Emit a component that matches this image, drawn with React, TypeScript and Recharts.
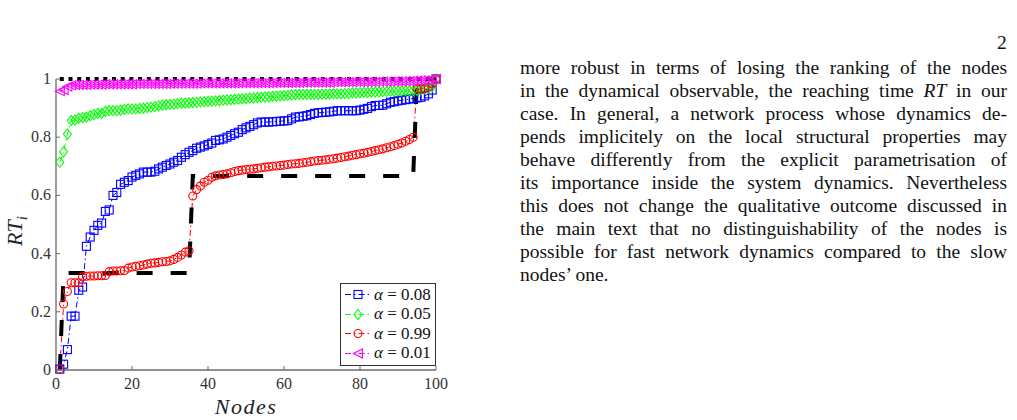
import React from "react";
import { Line, LineChart, XAxis, YAxis } from "recharts";

// node index along the x axis
const nodes = Array.from({ length: 100 }, (_, i) => i + 1);

const alpha008 = [
  0.003, 0.02, 0.07, 0.185, 0.185, 0.274, 0.285, 0.425, 0.457, 0.48,
  0.497, 0.505, 0.545, 0.55, 0.6, 0.61, 0.638, 0.645, 0.651, 0.663,
  0.669, 0.674, 0.68, 0.68, 0.68, 0.683, 0.691, 0.697, 0.703, 0.708,
  0.714, 0.72, 0.731, 0.74, 0.748, 0.754, 0.762, 0.766, 0.77, 0.775,
  0.78, 0.789, 0.791, 0.794, 0.8, 0.806, 0.812, 0.817, 0.826, 0.832,
  0.837, 0.843, 0.849, 0.852, 0.852, 0.852, 0.853, 0.854, 0.855, 0.856,
  0.857, 0.863, 0.869, 0.87, 0.872, 0.874, 0.878, 0.882, 0.884, 0.885,
  0.886, 0.887, 0.889, 0.891, 0.891, 0.891, 0.891, 0.891, 0.891, 0.893,
  0.896, 0.899, 0.905, 0.909, 0.909, 0.91, 0.915, 0.92, 0.922, 0.925,
  0.927, 0.929, 0.931, 0.933, 0.935, 0.937, 0.942, 0.949, 0.962, 1,
];

const alpha005 = [
  0.714, 0.75, 0.811, 0.857, 0.859, 0.865, 0.867, 0.869, 0.874, 0.878,
  0.882, 0.882, 0.889, 0.891, 0.891, 0.891, 0.893, 0.896, 0.897, 0.897,
  0.897, 0.899, 0.9, 0.902, 0.903, 0.905, 0.908, 0.91, 0.912, 0.913,
  0.914, 0.915, 0.917, 0.917, 0.918, 0.919, 0.92, 0.921, 0.922, 0.923,
  0.924, 0.925, 0.926, 0.927, 0.928, 0.929, 0.93, 0.931, 0.932, 0.933,
  0.934, 0.935, 0.936, 0.937, 0.938, 0.939, 0.94, 0.941, 0.942, 0.943,
  0.944, 0.945, 0.946, 0.947, 0.947, 0.947, 0.947, 0.947, 0.947, 0.948,
  0.948, 0.948, 0.949, 0.949, 0.949, 0.95, 0.951, 0.952, 0.952, 0.953,
  0.954, 0.954, 0.955, 0.955, 0.956, 0.957, 0.957, 0.958, 0.958, 0.959,
  0.959, 0.96, 0.96, 0.96, 0.961, 0.963, 0.966, 0.969, 0.974, 1,
];

const alpha099 = [
  0.003, 0.227, 0.27, 0.3, 0.3, 0.3, 0.32, 0.322, 0.323, 0.323,
  0.324, 0.324, 0.325, 0.338, 0.34, 0.34, 0.341, 0.342, 0.35, 0.354,
  0.356, 0.358, 0.361, 0.364, 0.367, 0.368, 0.37, 0.372, 0.373, 0.375,
  0.38, 0.387, 0.395, 0.405, 0.41, 0.598, 0.62, 0.632, 0.645, 0.652,
  0.662, 0.667, 0.67, 0.672, 0.674, 0.678, 0.682, 0.685, 0.687, 0.689,
  0.69, 0.691, 0.693, 0.695, 0.697, 0.698, 0.7, 0.701, 0.703, 0.704,
  0.706, 0.708, 0.709, 0.71, 0.712, 0.714, 0.716, 0.718, 0.72, 0.721,
  0.722, 0.724, 0.726, 0.728, 0.73, 0.733, 0.735, 0.738, 0.74, 0.743,
  0.745, 0.748, 0.751, 0.754, 0.757, 0.76, 0.764, 0.767, 0.771, 0.776,
  0.78, 0.786, 0.792, 0.8, 0.966, 0.966, 0.967, 0.972, 0.983, 1,
];

const alpha001 = [
  0.958, 0.962, 0.974, 0.978, 0.979, 0.98, 0.98, 0.98, 0.981, 0.981,
  0.981, 0.981, 0.982, 0.982, 0.982, 0.982, 0.982, 0.982, 0.982, 0.982,
  0.983, 0.983, 0.983, 0.983, 0.983, 0.983, 0.983, 0.983, 0.983, 0.984,
  0.984, 0.984, 0.984, 0.984, 0.984, 0.984, 0.984, 0.985, 0.985, 0.985,
  0.985, 0.985, 0.985, 0.985, 0.985, 0.985, 0.985, 0.986, 0.986, 0.986,
  0.986, 0.986, 0.986, 0.986, 0.986, 0.986, 0.987, 0.987, 0.987, 0.987,
  0.987, 0.987, 0.987, 0.987, 0.988, 0.988, 0.988, 0.988, 0.988, 0.988,
  0.988, 0.988, 0.989, 0.989, 0.989, 0.989, 0.989, 0.989, 0.99, 0.99,
  0.99, 0.99, 0.99, 0.99, 0.991, 0.991, 0.991, 0.991, 0.992, 0.992,
  0.992, 0.993, 0.993, 0.994, 0.994, 0.995, 0.995, 0.996, 0.997, 1,
];

// black reference steps (not in legend)
const slowSteps = [
  0, 0.333, 0.333, 0.333, 0.333, 0.333, 0.333, 0.333, 0.333, 0.333,
  0.333, 0.333, 0.333, 0.333, 0.333, 0.333, 0.333, 0.333, 0.333, 0.333,
  0.333, 0.333, 0.333, 0.333, 0.333, 0.333, 0.333, 0.333, 0.333, 0.333,
  0.333, 0.333, 0.333, 0.333, 0.333, 0.667, 0.667, 0.667, 0.667, 0.667,
  0.667, 0.667, 0.667, 0.667, 0.667, 0.667, 0.667, 0.667, 0.667, 0.667,
  0.667, 0.667, 0.667, 0.667, 0.667, 0.667, 0.667, 0.667, 0.667, 0.667,
  0.667, 0.667, 0.667, 0.667, 0.667, 0.667, 0.667, 0.667, 0.667, 0.667,
  0.667, 0.667, 0.667, 0.667, 0.667, 0.667, 0.667, 0.667, 0.667, 0.667,
  0.667, 0.667, 0.667, 0.667, 0.667, 0.667, 0.667, 0.667, 0.667, 0.667,
  0.667, 0.667, 0.667, 0.667, 1, 1, 1, 1, 1, 1,
];

const fastSteps = [
  1, 1, 1, 1, 1, 1, 1, 1, 1, 1,
  1, 1, 1, 1, 1, 1, 1, 1, 1, 1,
  1, 1, 1, 1, 1, 1, 1, 1, 1, 1,
  1, 1, 1, 1, 1, 1, 1, 1, 1, 1,
  1, 1, 1, 1, 1, 1, 1, 1, 1, 1,
  1, 1, 1, 1, 1, 1, 1, 1, 1, 1,
  1, 1, 1, 1, 1, 1, 1, 1, 1, 1,
  1, 1, 1, 1, 1, 1, 1, 1, 1, 1,
  1, 1, 1, 1, 1, 1, 1, 1, 1, 1,
  1, 1, 1, 1, 1, 1, 1, 1, 1, 1,
];

const xTicks = [0, 20, 40, 60, 80, 100];
const yTicks = [0, 0.2, 0.4, 0.6, 0.8, 1];

const textLines = [
  "more robust in terms of losing the ranking of the nodes",
  "in the dynamical observable, the reaching time @RT@ in our",
  "case. In general, a network process whose dynamics de-",
  "pends implicitely on the local structural properties may",
  "behave differently from the explicit parametrisation of",
  "its importance inside the system dynamics. Nevertheless",
  "this does not change the qualitative outcome discussed in",
  "the main text that no distinguishability of the nodes is",
  "possible for fast network dynamics compared to the slow",
  "nodes\u2019 one.",
];

const rows = nodes.map((node, i) => ({
  node,
  a008: alpha008[i],
  a005: alpha005[i],
  a099: alpha099[i],
  a001: alpha001[i],
  slow: slowSteps[i],
  fast: fastSteps[i],
}));

const SERIF = "'Liberation Serif', 'Times New Roman', serif";
const AXIS = "#6b6b6b";
const DASHDOT = "6 3 1.5 3";

type Shape = "square" | "diamond" | "circle" | "triangle";

const series: { key: string; label: string; color: string; shape: Shape }[] = [
  { key: "a008", label: "0.08", color: "#0000ff", shape: "square" },
  { key: "a005", label: "0.05", color: "#00ff00", shape: "diamond" },
  { key: "a099", label: "0.99", color: "#ff0000", shape: "circle" },
  { key: "a001", label: "0.01", color: "#ff00ff", shape: "triangle" },
];

function Marker({ shape, cx, cy, color }: { shape: Shape; cx: number; cy: number; color: string }) {
  const common = { fill: "none", stroke: color, strokeWidth: 1.1 };
  if (shape === "square") return <rect x={cx - 4} y={cy - 4} width={8} height={8} {...common} />;
  if (shape === "diamond")
    return <polygon points={`${cx},${cy - 5} ${cx + 4},${cy} ${cx},${cy + 5} ${cx - 4},${cy}`} {...common} />;
  if (shape === "circle") return <circle cx={cx} cy={cy} r={4} {...common} />;
  return <polygon points={`${cx - 4.5},${cy} ${cx + 4.5},${cy - 4.5} ${cx + 4.5},${cy + 4.5}`} {...common} />;
}

const dotFor = (shape: Shape, color: string) => (props: any) => {
  const { cx, cy, index } = props;
  if (cx == null || cy == null) return <g key={index} />;
  return (
    <g key={index}>
      <Marker shape={shape} cx={cx} cy={cy} color={color} />
    </g>
  );
};

const XTick = ({ x, y, payload }: any) => (
  <g>
    <line x1={x} x2={x} y1={y} y2={y - 4} stroke={AXIS} strokeWidth={1} />
    <text x={x} y={y + 19} textAnchor="middle" fontFamily={SERIF} fontSize={16} fill="#333">
      {payload.value}
    </text>
  </g>
);

const YTick = ({ x, y, payload }: any) => (
  <g>
    <line x1={x} x2={x + 4} y1={y} y2={y} stroke={AXIS} strokeWidth={1} />
    <text x={x - 5} y={y + 5} textAnchor="end" fontFamily={SERIF} fontSize={16} fill="#333">
      {payload.value}
    </text>
  </g>
);

function ChartLegend() {
  return (
    <div
      style={{
        position: "absolute",
        left: 340,
        top: 283,
        width: 94,
        height: 80,
        border: "1px solid #333",
        background: "#fff",
        paddingTop: 1,
        boxSizing: "content-box",
      }}
    >
      {series.map((s) => (
        <div key={s.key} style={{ display: "flex", alignItems: "center", height: 19.5 }}>
          <svg width={32} height={19} style={{ display: "block" }}>
            <line x1={4} x2={28} y1={9.5} y2={9.5} stroke={s.color} strokeWidth={1} strokeDasharray={DASHDOT} />
            <Marker shape={s.shape} cx={17} cy={9.5} color={s.color} />
          </svg>
          <span style={{ fontFamily: SERIF, fontSize: 17, color: "#111", whiteSpace: "nowrap", marginLeft: 1 }}>
            <i>α</i> = {s.label}
          </span>
        </div>
      ))}
    </div>
  );
}

function TextLine({ text, last }: { text: string; last: boolean }) {
  const parts = text.split("@");
  return (
    <div style={{ textAlign: last ? "left" : "justify", textAlignLast: last ? "left" : "justify", height: 23 }}>
      {parts.map((p, i) => (i % 2 === 1 ? <i key={i}>{p}</i> : <span key={i}>{p}</span>))}
    </div>
  );
}

export default function App() {
  return (
    <div
      style={{
        position: "absolute",
        left: 0,
        top: 0,
        width: 1017,
        height: 420,
        background: "#fff",
        overflow: "hidden",
        fontFamily: SERIF,
      }}
    >
      <div style={{ position: "absolute", left: 0, top: 0 }}>
        <LineChart width={460} height={420} data={rows} margin={{ top: 79, right: 24, bottom: 0, left: 0 }}>
          <XAxis
            dataKey="node"
            type="number"
            domain={[0, 100]}
            ticks={xTicks}
            height={50}
            stroke={AXIS}
            strokeWidth={1.3}
            tickSize={0}
            tickMargin={0}
            tick={<XTick />}
            label={{
              content: () => (
                <text x={246} y={414} textAnchor="middle" fontFamily={SERIF} fontStyle="italic" fontSize={22} letterSpacing={1.5} fill="#222">
                  Nodes
                </text>
              ),
            }}
          />
          <YAxis
            type="number"
            domain={[0, 1]}
            ticks={yTicks}
            width={56}
            stroke={AXIS}
            strokeWidth={1.3}
            tickSize={0}
            tickMargin={0}
            tick={<YTick />}
            label={{
              content: () => (
                <text
                  x={0}
                  y={0}
                  transform="translate(22 231) rotate(-90)"
                  textAnchor="middle"
                  fontFamily={SERIF}
                  fontStyle="italic"
                  fontSize={22}
                  fill="#222"
                >
                  RT
                  <tspan fontSize={15} dy={5}>
                    i
                  </tspan>
                </text>
              ),
            }}
          />
          {series.map((s) => (
            <Line
              key={s.key}
              type="linear"
              dataKey={s.key}
              stroke={s.color}
              strokeWidth={1}
              strokeDasharray={DASHDOT}
              dot={dotFor(s.shape, s.color)}
              activeDot={false}
              legendType="none"
              isAnimationActive={false}
            />
          ))}
          <Line
            type="linear"
            dataKey="slow"
            stroke="#000"
            strokeWidth={4}
            strokeDasharray="16 18"
            dot={false}
            activeDot={false}
            isAnimationActive={false}
          />
          <Line
            type="linear"
            dataKey="fast"
            stroke="#000"
            strokeWidth={4}
            strokeDasharray="4 4.7"
            dot={false}
            activeDot={false}
            isAnimationActive={false}
          />
        </LineChart>
      </div>
      <ChartLegend />
      <div style={{ position: "absolute", left: 997, top: 32, fontSize: 19.5, color: "#111" }}>2</div>
      <div
        style={{
          position: "absolute",
          left: 520,
          top: 56,
          width: 487,
          fontSize: 19.5,
          lineHeight: "23px",
          color: "#111",
        }}
      >
        {textLines.map((t, i) => (
          <TextLine key={i} text={t} last={i === textLines.length - 1} />
        ))}
      </div>
    </div>
  );
}
